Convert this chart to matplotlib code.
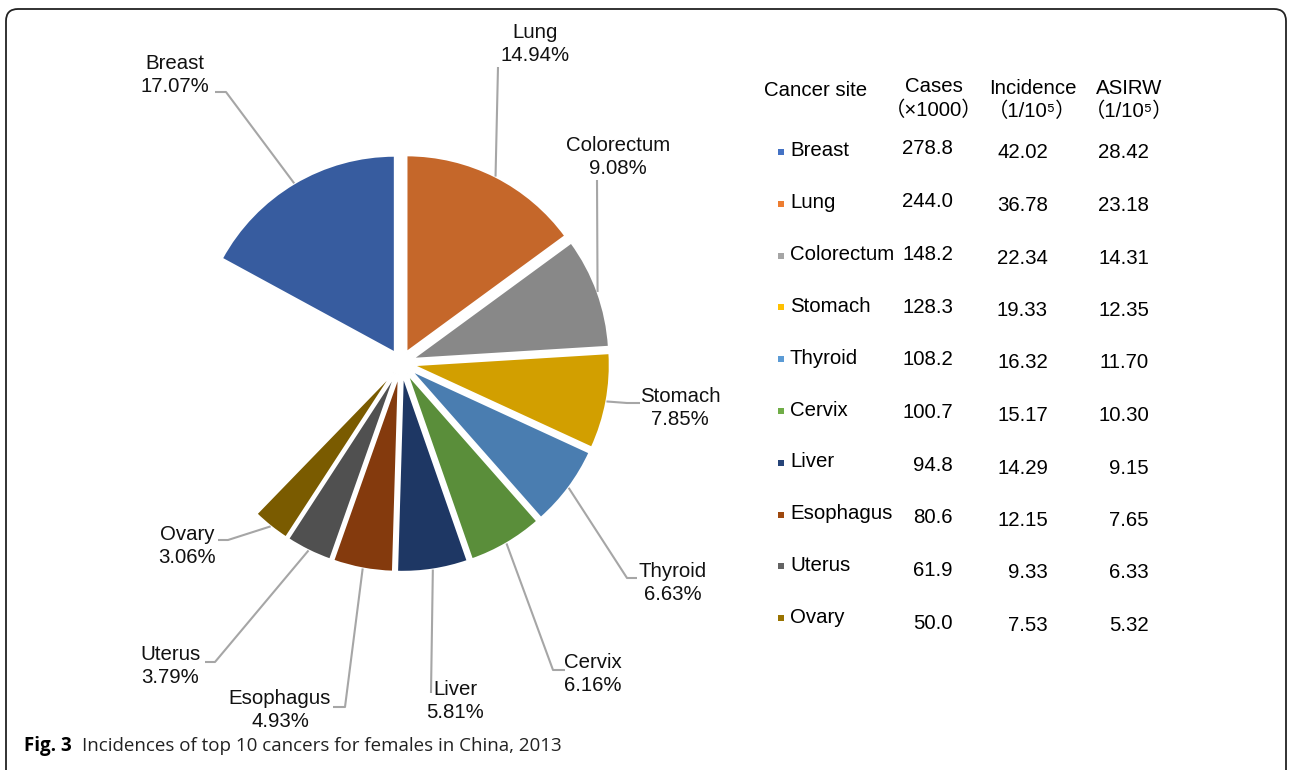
import numpy as np
import matplotlib.pyplot as plt
from matplotlib.patches import FancyBboxPatch, Rectangle

# data
sites = ['Breast', 'Lung', 'Colorectum', 'Stomach', 'Thyroid',
         'Cervix', 'Liver', 'Esophagus', 'Uterus', 'Ovary']
shares = [17.07, 14.94, 9.08, 7.85, 6.63, 6.16, 5.81, 4.93, 3.79, 3.06]
cases = [278.8, 244.0, 148.2, 128.3, 108.2, 100.7, 94.8, 80.6, 61.9, 50.0]
incidence = [42.02, 36.78, 22.34, 19.33, 16.32, 15.17, 14.29, 12.15, 9.33, 7.53]
asirw = [28.42, 23.18, 14.31, 12.35, 11.70, 10.30, 9.15, 7.65, 6.33, 5.32]

pie_colors = ['#375C9F', '#C5672A', '#888888', '#D29F00', '#4A7DB0',
              '#5A8E3A', '#1E3764', '#843A0D', '#505050', '#7A5B00']
key_colors = ['#4472C4', '#ED7D31', '#A5A5A5', '#FFC000', '#5B9BD5',
              '#70AD47', '#264478', '#9E480E', '#636363', '#997300']

W, H = 1292, 770
FONT = ['Liberation Sans', 'Noto Sans CJK SC', 'DejaVu Sans']
plt.rcParams['font.family'] = FONT

fig = plt.figure(figsize=(W / 100, H / 100), dpi=100)
ax = fig.add_axes([0, 0, 1, 1])


def Y(y):
    # image rows -> data y
    return H - y


fracs = [s / 100 for s in shares]
wedges, _ = ax.pie(fracs, colors=pie_colors, startangle=90 + fracs[0] * 360,
                   counterclock=False, explode=[12] * len(fracs), radius=197,
                   center=(401, Y(363)), normalize=False,
                   wedgeprops=dict(edgecolor='white', linewidth=1.5))

ax.set_xlim(0, W)
ax.set_ylim(0, H)
ax.set_aspect('equal')
ax.axis('off')

# leader lines: elbow points + label placement (image pixels)
elbows = [[(226, 92), (215, 92)],
          [(498, 67)],
          [(597, 180)],
          [(627, 403), (640, 403)],
          [(627, 578), (637, 578)],
          [(553, 670), (565, 670)],
          [(431, 693)],
          [(345, 707), (333, 707)],
          [(215, 662), (205, 662)],
          [(228, 540), (218, 540)]]
label_pos = [(175, 75), (535, 44), (618, 157), (680, 408), (673, 583),
             (593, 674), (455, 701), (280, 710), (170, 666), (187, 546)]

for w, pts, (lx, ly), name, s in zip(wedges, elbows, label_pos, sites, shares):
    th = np.deg2rad((w.theta1 + w.theta2) / 2)
    x0 = w.center[0] + w.r * np.cos(th)
    y0 = w.center[1] + w.r * np.sin(th)
    xs = [x0] + [p[0] for p in pts]
    ys = [y0] + [Y(p[1]) for p in pts]
    ax.plot(xs, ys, color='#A6A6A6', lw=1.5, solid_capstyle='butt')
    ax.text(lx, Y(ly), f'{name}\n{s:.2f}%', ha='center', va='center',
            fontsize=14.7, linespacing=1.3, color='#111111')

# table on the right
fs = 14.7
ax.text(764, Y(91), 'Cancer site', ha='left', va='center', fontsize=fs)
ax.text(934, Y(86), 'Cases', ha='center', va='center', fontsize=fs)
ax.text(934, Y(110), '（×1000）', ha='center', va='center', fontsize=fs)
ax.text(1033, Y(89), 'Incidence', ha='center', va='center', fontsize=fs)
ax.text(1032, Y(111), '（1/10⁵）', ha='center', va='center', fontsize=fs)
ax.text(1129, Y(89), 'ASIRW', ha='center', va='center', fontsize=fs)
ax.text(1129, Y(111), '（1/10⁵）', ha='center', va='center', fontsize=fs)

for i, name in enumerate(sites):
    yl = 151 + i * 51.8
    ax.add_patch(Rectangle((778, Y(yl + 4)), 6, 6, color=key_colors[i], lw=0))
    ax.text(790, Y(yl), name, ha='left', va='center', fontsize=fs)
    ax.text(953, Y(149 + i * 52.7), f'{cases[i]:.1f}', ha='right', va='center', fontsize=fs)
    ax.text(1048, Y(153 + i * 52.5), f'{incidence[i]:.2f}', ha='right', va='center', fontsize=fs)
    ax.text(1149, Y(153 + i * 52.5), f'{asirw[i]:.2f}', ha='right', va='center', fontsize=fs)

# frame
frame = FancyBboxPatch((6, Y(790)), W - 12, 781, boxstyle='round,pad=0,rounding_size=12',
                       fill=False, ec='#222222', lw=1.3, clip_on=True)
ax.add_patch(frame)

# caption
cap_font = ['Open Sans', 'Liberation Sans', 'DejaVu Sans']
t1 = ax.text(24, Y(746), 'Fig. 3', ha='left', va='center', fontsize=13.5,
             fontweight='bold', family=cap_font)
fig.canvas.draw()
bb = t1.get_window_extent()
t2 = ax.text(bb.x1 + 10, Y(746), 'Incidences of top 10 cancers for females in China, 2013',
             ha='left', va='center', fontsize=13.5, family=cap_font, color='#222222')

fig.savefig('out.png', dpi=100)
